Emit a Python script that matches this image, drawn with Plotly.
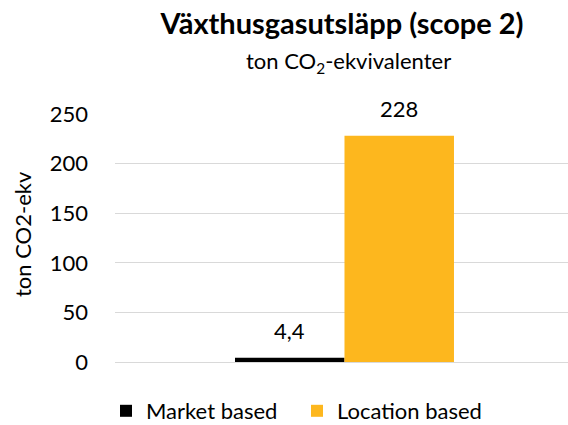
import plotly.graph_objects as go

category = [""]
series_names = ["Market based", "Location based"]
series_values = [[4.4], [228]]
series_colors = ["#000000", "#FDB71E"]
y_ticks = [0, 50, 100, 150, 200, 250]

FONT = "Lato, 'Source Sans Pro', sans-serif"
BARGAP = 0.5166

fig = go.Figure()
for name, vals, color in zip(series_names, series_values, series_colors):
    fig.add_bar(
        name=name,
        x=category,
        y=vals,
        marker=dict(color=color, line=dict(width=0)),
    )

# value labels above each bar (comma as decimal mark)
bar_w = (1 - BARGAP) / len(series_names)
labels = []
for i, vals in enumerate(series_values):
    for v in vals:
        labels.append(dict(
            text=str(v).replace(".", ","),
            x=-(1 - BARGAP) / 2 + bar_w * (i + 0.5),
            y=v,
            xref="x", yref="y",
            xanchor="center", yanchor="middle",
            yshift=27,
            showarrow=False,
            font=dict(size=22),
        ))

fig.update_layout(
    width=568,
    height=425,
    margin=dict(l=115, r=0, t=114, b=63, autoexpand=False),
    paper_bgcolor="white",
    plot_bgcolor="white",
    font=dict(family=FONT, size=22, color="#000000"),
    barmode="group",
    bargap=BARGAP,
    bargroupgap=0,
    showlegend=True,
    legend=dict(
        orientation="h",
        x=-9 / 453,
        xanchor="left",
        y=-(410 - 361) / 248,
        yanchor="middle",
        font=dict(size=22),
        itemwidth=30,
        entrywidth=146,
        entrywidthmode="pixels",
    ),
    title=dict(
        text="<b>Växthusgasutsläpp (scope 2)</b>",
        font=dict(size=29, color="#000000"),
        x=342 / 568,
        xanchor="center",
        y=1 - 24 / 425,
        yanchor="middle",
    ),
    annotations=labels + [
        dict(
            text="ton CO<sub>2</sub>-ekvivalenter",
            xref="paper", yref="paper",
            x=(348 - 115) / 453, y=1 + (114 - 62) / 248,
            xanchor="center", yanchor="middle",
            showarrow=False,
            font=dict(size=22),
        ),
        dict(
            text="ton CO2-ekv",
            xref="paper", yref="paper",
            x=-(115 - 22) / 453, y=(361 - 233) / 248,
            xanchor="center", yanchor="middle",
            textangle=-90,
            showarrow=False,
            font=dict(size=22),
        ),
    ],
)

fig.update_xaxes(
    range=[-0.5066, 0.4934],
    showticklabels=False,
    showgrid=False,
    zeroline=False,
    showline=False,
)
fig.update_yaxes(
    range=[0, 250],
    tickvals=y_ticks,
    showgrid=True,
    gridcolor="#D9D9D9",
    gridwidth=1,
    zeroline=True,
    zerolinecolor="#D9D9D9",
    zerolinewidth=1,
    ticks="",
    ticklabelstandoff=26,
    tickfont=dict(size=22),
    automargin=False,
)

# drop the browser's default body margin so the figure sits at the page corner
fig.write_html(
    "out.html",
    config={"displayModeBar": False},
    post_script="document.body.style.margin = '0';",
)
